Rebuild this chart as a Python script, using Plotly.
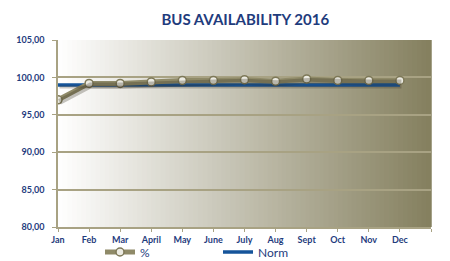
import plotly.graph_objects as go

months = ["Jan", "Feb", "Mar", "April", "May", "June", "July", "Aug", "Sept", "Oct", "Nov", "Dec"]
pct = [97.0, 99.2, 99.2, 99.4, 99.6, 99.6, 99.7, 99.5, 99.8, 99.6, 99.6, 99.6]
norm = [99.0] * 12
y_ticks = [80, 85, 90, 95, 100, 105]
y_ticktext = ["80,00", "85,00", "90,00", "95,00", "100,00", "105,00"]

xs = list(range(len(months)))
navy = "#1f3c7d"
olive = "#8f8a68"
grid = "#a8a283"

fig = go.Figure()

# shadow of the lines (same data, offset axes)
fig.add_trace(go.Scatter(x=xs, y=pct, mode="lines", xaxis="x2", yaxis="y2",
                         line=dict(color="rgba(50,45,30,0.28)", width=6),
                         showlegend=False, hoverinfo="skip"))
fig.add_trace(go.Scatter(x=xs, y=norm, mode="lines", xaxis="x2", yaxis="y2",
                         line=dict(color="rgba(50,45,30,0.25)", width=3),
                         showlegend=False, hoverinfo="skip"))

fig.add_trace(go.Scatter(x=xs, y=norm, mode="lines", name="Norm",
                         line=dict(color="#15549a", width=3.5)))
fig.add_trace(go.Scatter(x=xs, y=pct, mode="lines+markers", name="%",
                         line=dict(color=olive, width=5),
                         marker=dict(size=8, color="#ecebe2",
                                     line=dict(color="#7d7858", width=1.5))))

# gradient background
n = 80
c0 = (255, 255, 255)
c1 = (132, 127, 94)
shapes = []
for i in range(n):
    t = (i + 0.5) / n
    c = tuple(round(c0[k] + (c1[k] - c0[k]) * t) for k in range(3))
    shapes.append(dict(type="rect", xref="x domain", yref="y domain",
                       x0=i / n, x1=(i + 1) / n + 0.002, y0=0, y1=1,
                       fillcolor="rgb(%d,%d,%d)" % c, line=dict(width=0),
                       layer="below"))

W, H = 450, 261
ml, mr, mt, mb = 58, 19, 40, 34
pw = W - ml - mr
ph = H - mt - mb
dx = 1.5 * 12 / pw
dy = 2.0 * 25 / ph

fig.update_layout(
    width=W, height=H,
    margin=dict(l=ml, r=mr, t=mt, b=mb, autoexpand=False),
    paper_bgcolor="white", plot_bgcolor="white",
    shapes=shapes,
    title=dict(text="<b>BUS AVAILABILITY 2016</b>", x=0.545, xanchor="center",
               y=1 - 20 / H, yanchor="middle",
               font=dict(family="Lato", size=15, color=navy)),
    xaxis=dict(range=[0, 12], tickvals=list(range(13)),
               ticktext=months + [""], showgrid=False, zeroline=False,
               showline=True, linecolor=grid, linewidth=1.5,
               ticks="outside", ticklen=3, tickcolor=grid,
               tickfont=dict(family="Lato", size=9, color=navy, weight="bold"),
               fixedrange=True, automargin=False),
    yaxis=dict(range=[80, 105], tickvals=y_ticks, ticktext=y_ticktext,
               showgrid=True, gridcolor=grid, gridwidth=1.5, zeroline=False,
               showline=True, linecolor=grid, linewidth=1.5,
               ticks="outside", ticklen=4, tickcolor=grid,
               tickfont=dict(family="Lato", size=9, color=navy, weight="bold"),
               ticklabelstandoff=6, fixedrange=True, automargin=False),
    xaxis2=dict(overlaying="x", range=[0 - dx, 12 - dx], visible=False, fixedrange=True),
    yaxis2=dict(overlaying="y", range=[80 + dy, 105 + dy], visible=False, fixedrange=True),
    legend=dict(orientation="h", x=(100 - ml) / pw, xanchor="left",
                y=-(252 - (H - mb)) / ph, yanchor="middle",
                traceorder="reversed", itemwidth=30,
                font=dict(family="Lato", size=12, color=navy),
                bgcolor="rgba(0,0,0,0)", entrywidth=73, entrywidthmode="pixels"),
    showlegend=True,
)

fig.write_html("out.html")
